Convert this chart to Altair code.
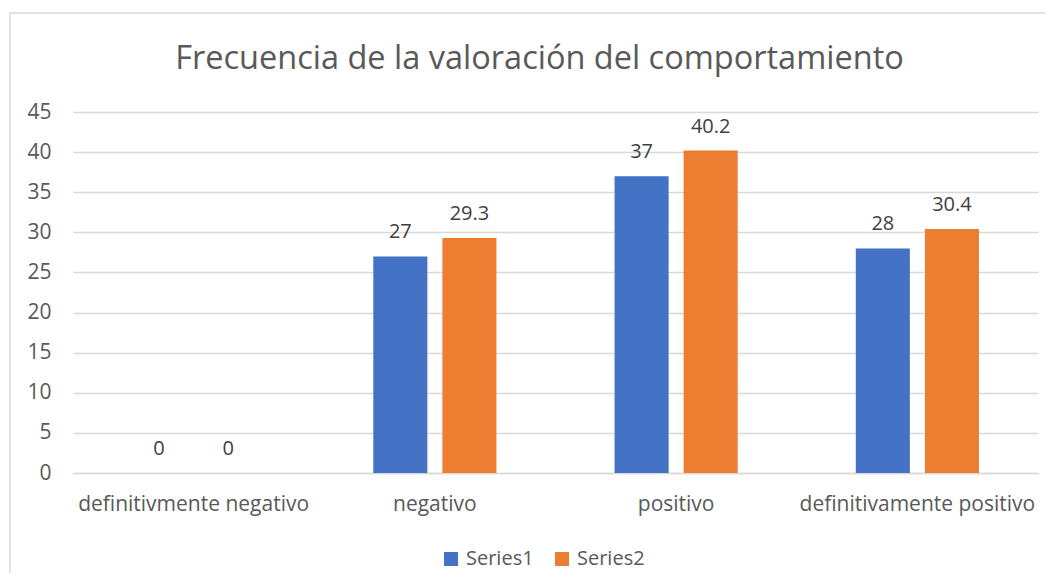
import altair as alt
import pandas as pd

categories = ["definitivmente negativo", "negativo", "positivo", "definitivamente positivo"]
series_names = ["Series1", "Series2"]
series1 = [0, 27, 37, 28]
series2 = [0, 29.3, 40.2, 30.4]
y_ticks = [0, 5, 10, 15, 20, 25, 30, 35, 40, 45]
colors = ["#4472C4", "#ED7D31"]

rows = []
for c, a, b in zip(categories, series1, series2):
    rows.append({"cat": c, "series": series_names[0], "value": a})
    rows.append({"cat": c, "series": series_names[1], "value": b})
df = pd.DataFrame(rows)

FONT = "Open Sans"
GREY = "#595959"

x = alt.X("cat:N", sort=categories, title=None,
          scale=alt.Scale(paddingInner=0, paddingOuter=0),
          axis=alt.Axis(labelAngle=0, labelFontSize=21, labelColor=GREY, labelFont=FONT,
                        ticks=False, domainColor="#D9D9D9", domainWidth=1.3,
                        labelPadding=20, grid=False, labelLimit=400))
xo = alt.XOffset("series:N", sort=series_names,
                 scale=alt.Scale(paddingInner=0.2174, paddingOuter=0.855))
y = alt.Y("value:Q", title=None,
          scale=alt.Scale(domain=[0, 45], nice=False),
          axis=alt.Axis(values=y_ticks, labelFontSize=21, labelColor=GREY, labelFont=FONT,
                        ticks=False, domain=False, gridColor="#D9D9D9", gridWidth=1.3,
                        labelPadding=22))

bars = alt.Chart(df).mark_bar().encode(
    x=x, xOffset=xo, y=y,
    color=alt.Color("series:N", sort=series_names,
                    scale=alt.Scale(domain=series_names, range=colors),
                    legend=alt.Legend(title=None, orient="none", direction="horizontal",
                                      legendX=368, legendY=437, symbolType="square",
                                      symbolSize=196, symbolStrokeWidth=0,
                                      labelFontSize=20, labelColor=GREY, labelFont=FONT,
                                      columnPadding=18, labelOffset=5)),
)

labels = alt.Chart(df).mark_text(baseline="alphabetic", dy=-18, fontSize=20,
                                 color="#404040", font=FONT).encode(
    x=alt.X("cat:N", sort=categories), xOffset=alt.XOffset("series:N", sort=series_names),
    y=alt.Y("value:Q"), text=alt.Text("value:Q"),
)

border = alt.Chart(pd.DataFrame({"k": [0]})).mark_rect(
    fill=None, stroke="#D9D9D9", strokeWidth=1.5).encode(
    x=alt.value(-63), x2=alt.value(1000), y=alt.value(-99), y2=alt.value(520))

chart = alt.layer(border, bars, labels).properties(
    width=965, height=361,
    title=alt.Title("Frecuencia de la valoración del comportamiento",
                    fontSize=32.5, font=FONT, fontWeight="normal", color=GREY,
                    anchor="middle", dx=-16, offset=-89, baseline="alphabetic"),
    autosize=alt.AutoSizeParams(type="none"),
    padding={"left": 65, "top": 104, "right": 7, "bottom": 100},
).configure_view(stroke=None).configure_legend(symbolStrokeWidth=0)

chart.save("out.html", embed_options={"renderer": "svg", "actions": False})
